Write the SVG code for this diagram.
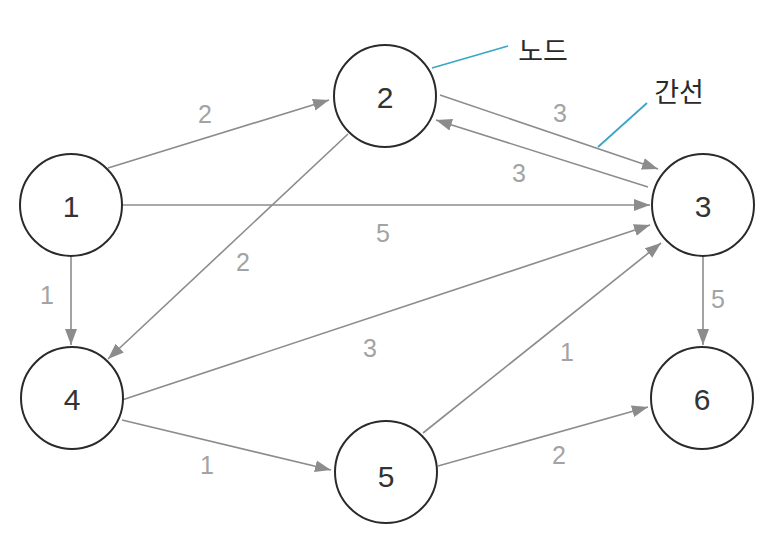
<svg xmlns="http://www.w3.org/2000/svg" width="784" height="554" viewBox="0 0 784 554">
<defs>
<marker id="arr" markerUnits="userSpaceOnUse" markerWidth="17" markerHeight="13" viewBox="0 0 17 13" refX="16" refY="6.5" orient="auto">
<path d="M0,0.5 L16,6.5 L0,12.5 z" fill="#8c8c8c"/>
</marker>
<style>
.node circle{fill:#fff;stroke:#2a2a2a;stroke-width:2}
.node text{font-family:"Liberation Sans","Noto Sans",sans-serif;font-size:30px;fill:#333;text-anchor:middle;dominant-baseline:central}
.edge{stroke:#8c8c8c;stroke-width:1.6;fill:none;marker-end:url(#arr)}
.lbl{font-family:"Liberation Sans","Noto Sans",sans-serif;font-size:25px;fill:#a3a3a3;text-anchor:middle;dominant-baseline:central}
.note{stroke:#3aa6c6;stroke-width:1.8}
.ntxt{font-family:"Noto Sans CJK KR","Noto Sans",sans-serif;font-size:27px;fill:#2a2a2a;text-anchor:middle;dominant-baseline:central}
</style>
</defs>
<g id="connectors">
<line class="edge" x1="108" y1="168" x2="329" y2="100"/>
<line class="edge" x1="122" y1="205" x2="650" y2="205"/>
<line class="edge" x1="71" y1="257" x2="71" y2="345"/>
<line class="edge" x1="440" y1="95" x2="658" y2="169"/>
<line class="edge" x1="648" y1="187" x2="436" y2="120"/>
<line class="edge" x1="348" y1="134" x2="108" y2="359"/>
<line class="edge" x1="122" y1="400" x2="650" y2="225"/>
<line class="edge" x1="122" y1="420" x2="331" y2="470"/>
<line class="edge" x1="423" y1="433" x2="661" y2="243"/>
<line class="edge" x1="438" y1="466" x2="648" y2="407"/>
<line class="edge" x1="703" y1="257" x2="703" y2="345"/>
<text class="lbl" x="205" y="114">2</text>
<text class="lbl" x="383" y="233">5</text>
<text class="lbl" x="47" y="295">1</text>
<text class="lbl" x="560" y="113">3</text>
<text class="lbl" x="519" y="173">3</text>
<text class="lbl" x="243" y="262">2</text>
<text class="lbl" x="370" y="348">3</text>
<text class="lbl" x="207" y="465">1</text>
<text class="lbl" x="567" y="352">1</text>
<text class="lbl" x="559" y="455">2</text>
<text class="lbl" x="718" y="299">5</text>
</g>
<g id="node1" class="node"><circle cx="71" cy="205" r="51"/><text x="71" y="206">1</text></g>
<g id="node2" class="node"><circle cx="385" cy="96" r="51"/><text x="385" y="97">2</text></g>
<g id="node3" class="node"><circle cx="703" cy="205" r="51"/><text x="703" y="206">3</text></g>
<g id="node4" class="node"><circle cx="72" cy="398" r="51"/><text x="72" y="399">4</text></g>
<g id="node5" class="node"><circle cx="386" cy="472" r="51"/><text x="386" y="476">5</text></g>
<g id="node6" class="node"><circle cx="702" cy="398" r="51"/><text x="702" y="399">6</text></g>
<g id="annotations">
<line class="note" x1="432" y1="68" x2="508" y2="46"/>
<text class="ntxt" x="543" y="49">노드</text>
<line class="note" x1="598" y1="147" x2="647" y2="103"/>
<text class="ntxt" x="679" y="90">간선</text>
</g>
</svg>
